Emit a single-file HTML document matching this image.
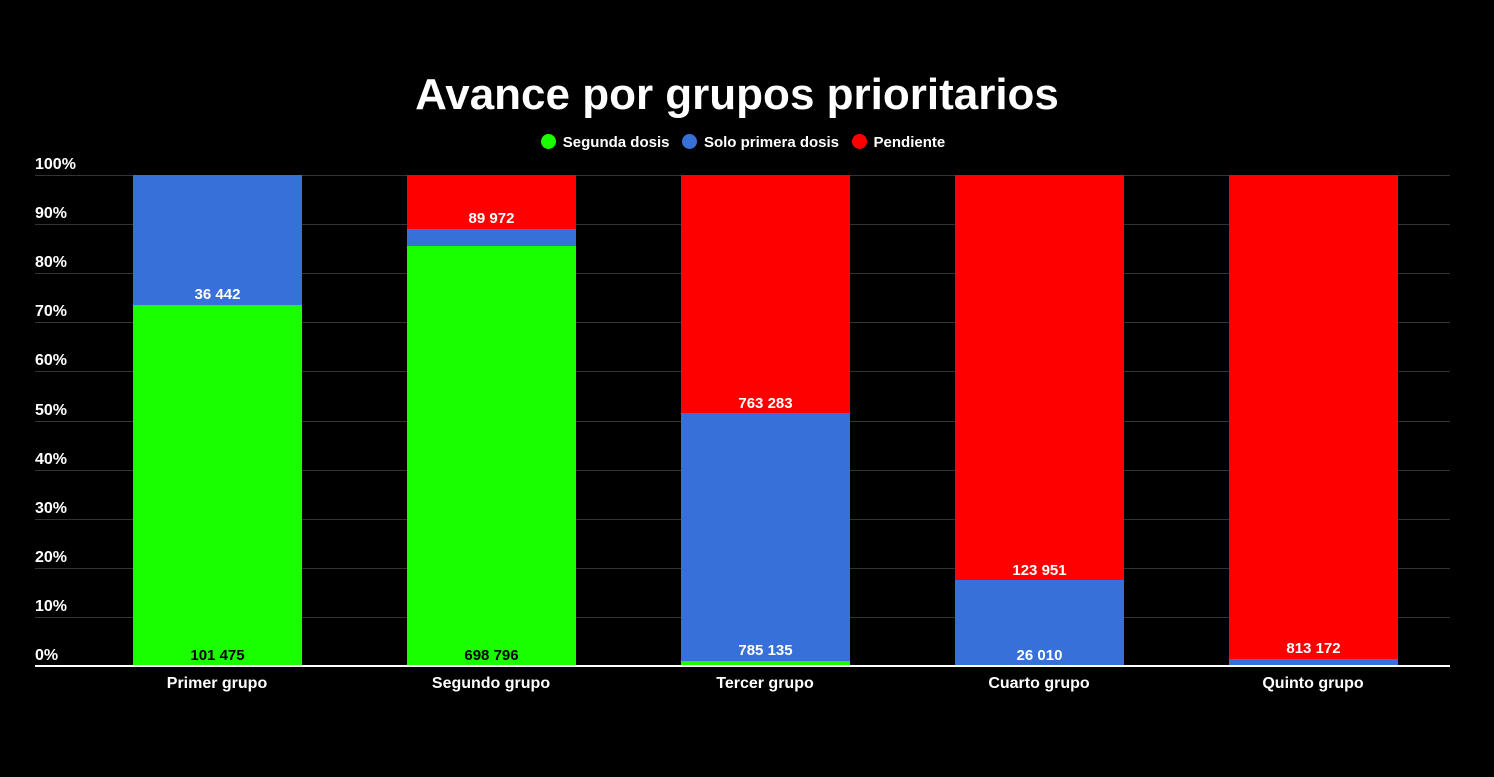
<!DOCTYPE html>
<html><head><meta charset="utf-8"><style>
body{margin:0;width:1494px;height:777px;background:#000;position:relative;overflow:hidden;font-family:"Liberation Sans",sans-serif;color:#fff;font-weight:bold}
.a{position:absolute}
.g{position:absolute;left:35px;width:1415px;height:1px;background:#333}
.yl{position:absolute;left:35px;font-size:16px;}
.b{position:absolute;width:169px}
.v{position:absolute;width:169px;text-align:center;font-size:15px}
.x{position:absolute;width:220px;text-align:center;font-size:16px;top:675px}
.dot{display:inline-block;width:15px;height:15px;border-radius:50%;vertical-align:-2px;margin-right:7px}
</style></head><body>
<div class="a" style="left:0;width:1474px;text-align:center;top:70px;font-size:44px;">Avance por grupos prioritarios</div>
<div class="a" style="left:0;width:1486px;text-align:center;top:134px;font-size:15px;"><span class="dot" style="background:#1aff00"></span>Segunda dosis &nbsp;&nbsp;<span class="dot" style="background:#3670d8"></span>Solo primera dosis &nbsp;&nbsp;<span class="dot" style="background:#ff0000"></span>Pendiente</div>
<div class="g" style="top:175px"></div><div class="g" style="top:224px"></div><div class="g" style="top:273px"></div><div class="g" style="top:322px"></div><div class="g" style="top:371px"></div><div class="g" style="top:421px"></div><div class="g" style="top:470px"></div><div class="g" style="top:519px"></div><div class="g" style="top:568px"></div><div class="g" style="top:617px"></div>
<div class="yl" style="top:156px">100%</div><div class="yl" style="top:205px">90%</div><div class="yl" style="top:254px">80%</div><div class="yl" style="top:303px">70%</div><div class="yl" style="top:352px">60%</div><div class="yl" style="top:402px">50%</div><div class="yl" style="top:451px">40%</div><div class="yl" style="top:500px">30%</div><div class="yl" style="top:549px">20%</div><div class="yl" style="top:598px">10%</div><div class="yl" style="top:647px">0%</div>
<div class="b" style="left:133px;top:175px;height:130px;background:#3670d8"></div>
<div class="b" style="left:133px;top:305px;height:361px;background:#1aff00"></div>
<div class="b" style="left:407px;top:175px;height:54px;background:#ff0000"></div>
<div class="b" style="left:407px;top:229px;height:17px;background:#3670d8"></div>
<div class="b" style="left:407px;top:246px;height:420px;background:#1aff00"></div>
<div class="b" style="left:681px;top:175px;height:238px;background:#ff0000"></div>
<div class="b" style="left:681px;top:413px;height:248px;background:#3670d8"></div>
<div class="b" style="left:681px;top:661px;height:5px;background:#1aff00"></div>
<div class="b" style="left:955px;top:175px;height:405px;background:#ff0000"></div>
<div class="b" style="left:955px;top:580px;height:86px;background:#3670d8"></div>
<div class="b" style="left:1229px;top:175px;height:484px;background:#ff0000"></div>
<div class="b" style="left:1229px;top:659px;height:7px;background:#3670d8"></div>
<div class="a" style="left:35px;top:665px;width:1415px;height:2px;background:#fff"></div>
<div class="v" style="left:133px;top:286px">36 442</div>
<div class="v" style="left:133px;top:647px;color:#000">101 475</div>
<div class="v" style="left:407px;top:210px">89 972</div>
<div class="v" style="left:407px;top:647px;color:#000">698 796</div>
<div class="v" style="left:681px;top:395px">763 283</div>
<div class="v" style="left:681px;top:642px">785 135</div>
<div class="v" style="left:955px;top:562px">123 951</div>
<div class="v" style="left:955px;top:647px">26 010</div>
<div class="v" style="left:1229px;top:640px">813 172</div>
<div class="x" style="left:107px">Primer grupo</div>
<div class="x" style="left:381px">Segundo grupo</div>
<div class="x" style="left:655px">Tercer grupo</div>
<div class="x" style="left:929px">Cuarto grupo</div>
<div class="x" style="left:1203px">Quinto grupo</div>
</body></html>
